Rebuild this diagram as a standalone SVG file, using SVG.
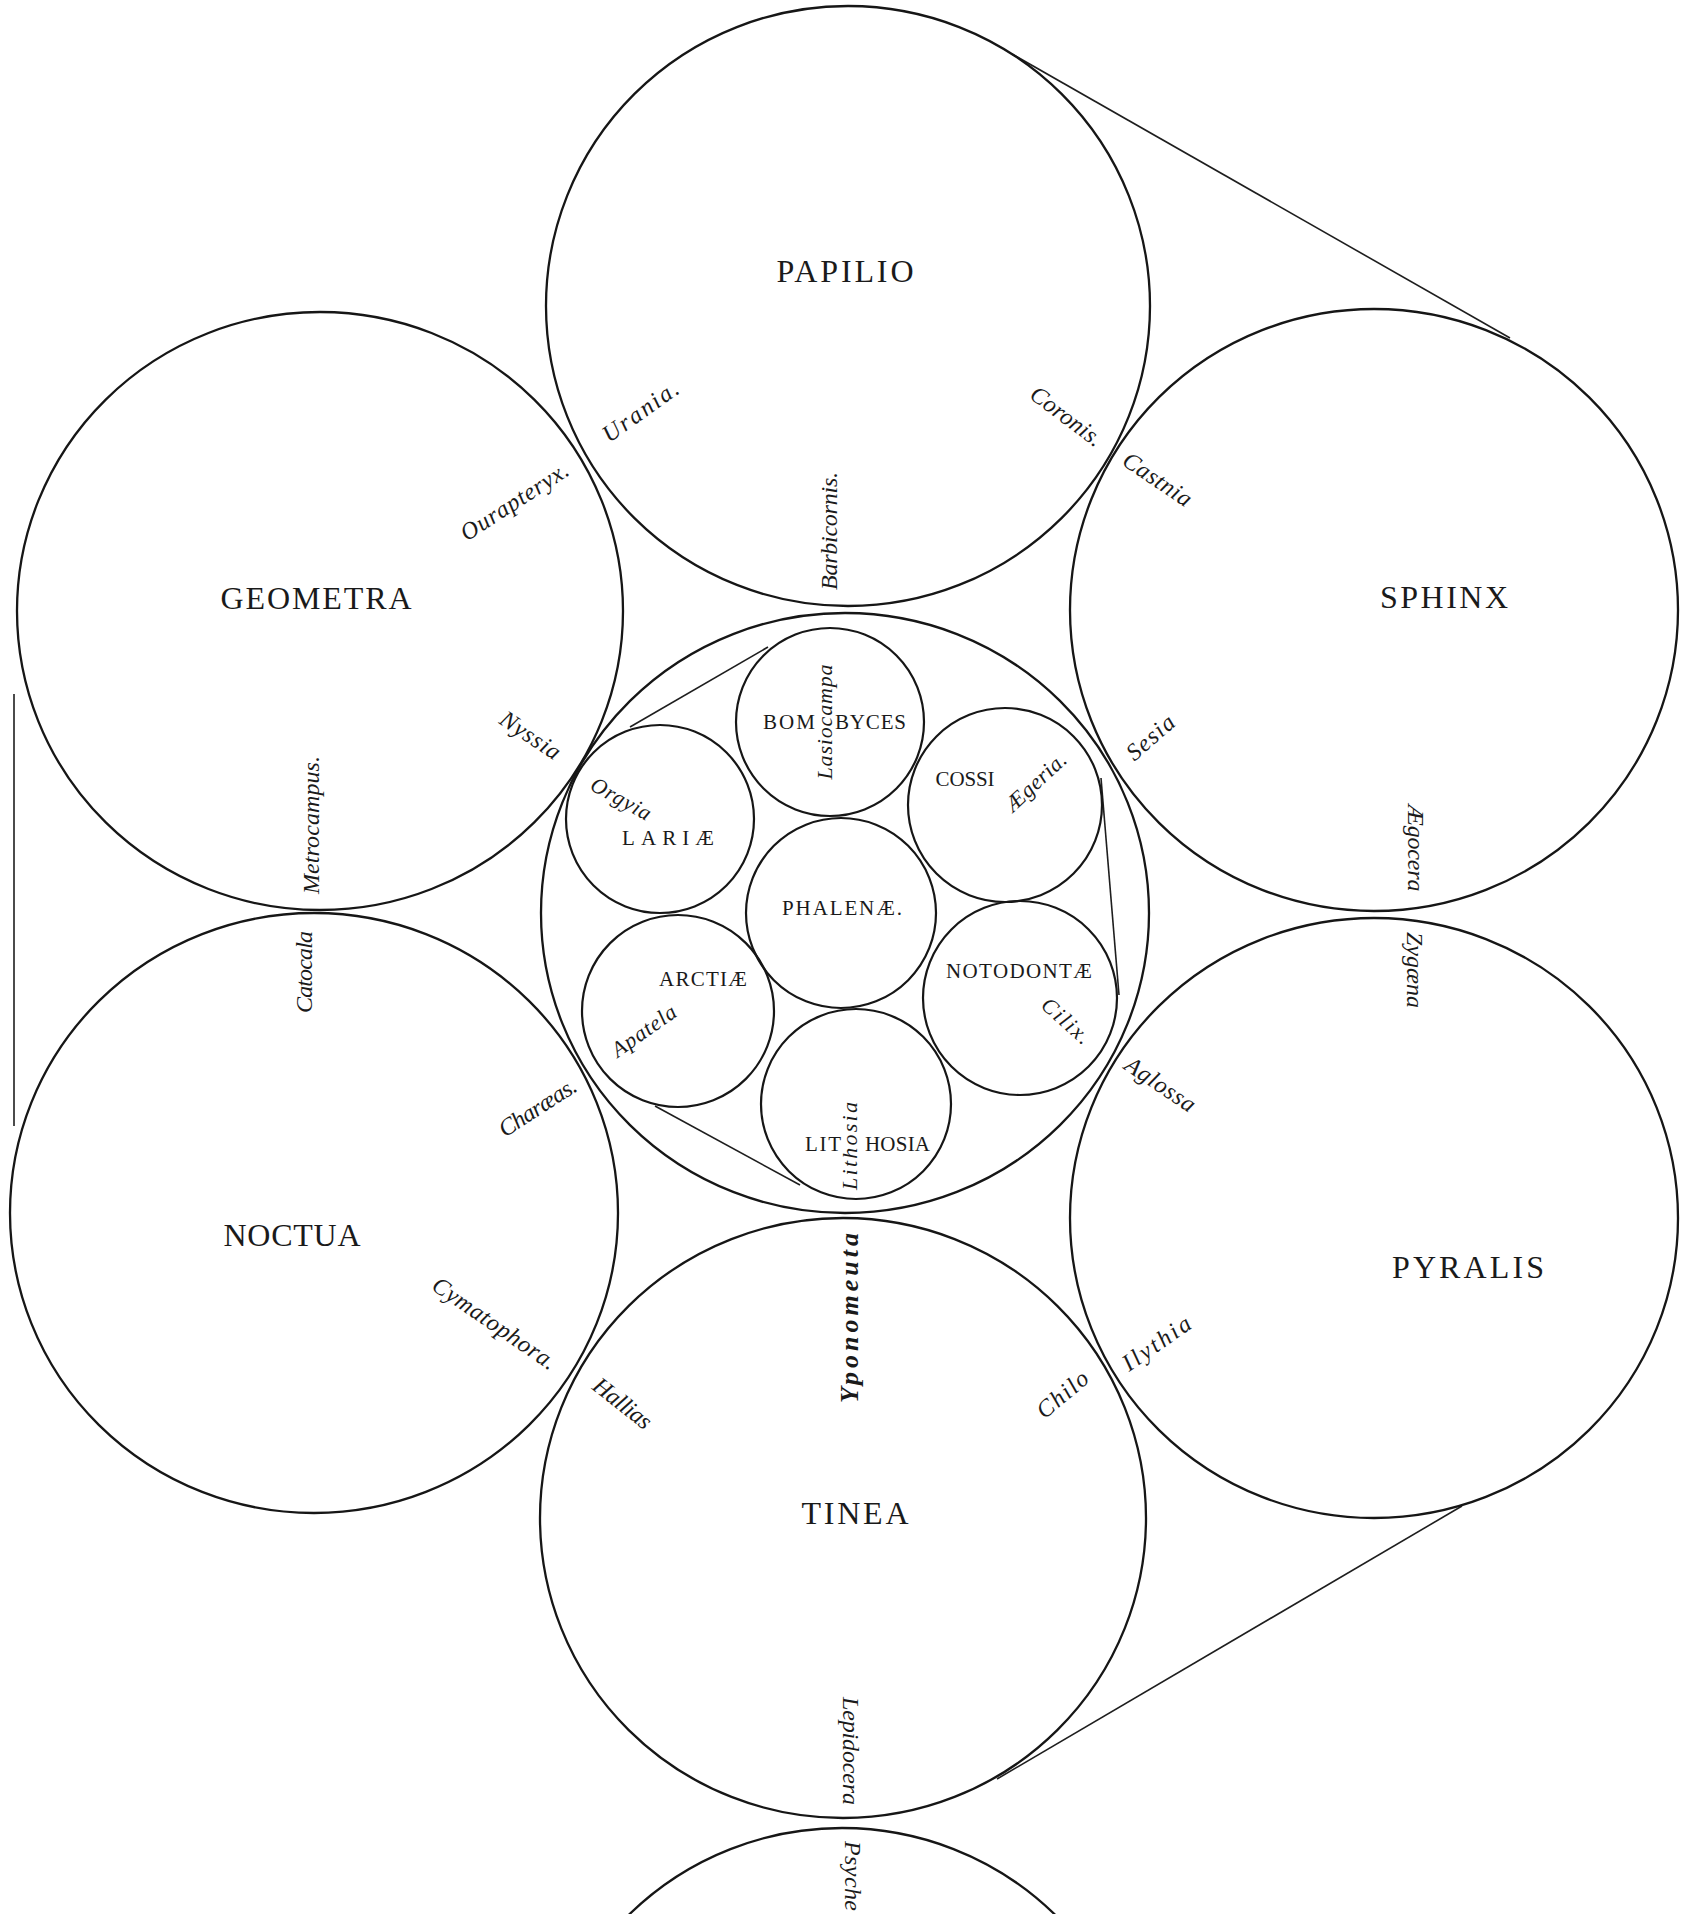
<svg xmlns="http://www.w3.org/2000/svg" width="1695" height="1914" viewBox="0 0 1695 1914">
<style>
.c{fill:none;stroke:#161616;stroke-width:2.3}
.s{fill:none;stroke:#161616;stroke-width:2.2}
.ln{fill:none;stroke:#1e1e1e;stroke-width:1.6}
.big{font-family:"Liberation Serif","DejaVu Serif",serif;font-size:32px;fill:#1a1a1a;text-anchor:middle}
.mid{font-family:"Liberation Serif","DejaVu Serif",serif;font-size:21px;fill:#1a1a1a}
.midc{font-family:"Liberation Serif","DejaVu Serif",serif;font-size:21px;fill:#1a1a1a;text-anchor:middle}
.it{font-family:"Liberation Serif","DejaVu Serif",serif;font-style:italic;font-size:24px;fill:#1a1a1a;text-anchor:middle}
.its{font-family:"Liberation Serif","DejaVu Serif",serif;font-style:italic;font-size:22px;fill:#1a1a1a;text-anchor:middle}
</style>
<rect width="1695" height="1914" fill="#ffffff"/>

<g id="connectors">
<line class="ln" x1="1012" y1="54" x2="1510" y2="338"/>
<line class="ln" x1="1462" y1="1506" x2="997" y2="1779"/>
<line class="ln" x1="14" y1="694" x2="14" y2="1126"/>
<line class="ln" x1="630" y1="727" x2="768" y2="647"/>
<line class="ln" x1="1101" y1="778" x2="1119" y2="995"/>
<line class="ln" x1="655" y1="1106" x2="800" y2="1185"/>
</g>

<g id="papilio">
<ellipse class="c" cx="848" cy="306" rx="302" ry="300"/>
<text class="big" x="845" y="282" textLength="137" lengthAdjust="spacing">PAPILIO</text>
<text class="it" transform="translate(830 531) rotate(-90)" x="0" y="7" textLength="118" lengthAdjust="spacing">Barbicornis.</text>
<text class="it" transform="translate(641 412) rotate(-35.5)" x="0" y="7" textLength="88" lengthAdjust="spacing">Urania.</text>
<text class="it" transform="translate(1066 417) rotate(37)" x="0" y="7" textLength="84" lengthAdjust="spacing">Coronis.</text>
</g>

<g id="geometra">
<ellipse class="c" cx="320" cy="611" rx="303" ry="299"/>
<text class="big" x="316" y="609" textLength="191" lengthAdjust="spacing">GEOMETRA</text>
<text class="it" transform="translate(515 502) rotate(-33)" x="0" y="7" textLength="124" lengthAdjust="spacing">Ourapteryx.</text>
<text class="it" transform="translate(530 736) rotate(34)" x="0" y="7" textLength="68" lengthAdjust="spacing">Nyssia</text>
<text class="it" transform="translate(312 825) rotate(-90)" x="0" y="7" textLength="138" lengthAdjust="spacing">Metrocampus.</text>
</g>

<g id="sphinx">
<ellipse class="c" cx="1374" cy="610" rx="304" ry="301"/>
<text class="big" x="1444" y="608" textLength="128" lengthAdjust="spacing">SPHINX</text>
<text class="it" transform="translate(1157 480) rotate(34)" x="0" y="7" textLength="78" lengthAdjust="spacing">Castnia</text>
<text class="it" transform="translate(1151 738) rotate(-41)" x="0" y="7" textLength="56" lengthAdjust="spacing">Sesia</text>
<text class="it" transform="translate(1415 848) rotate(90)" x="0" y="7" textLength="87" lengthAdjust="spacing">Ægocera</text>
</g>

<g id="noctua">
<ellipse class="c" cx="314" cy="1213" rx="304" ry="300"/>
<text class="big" x="292" y="1246" textLength="137" lengthAdjust="spacing">NOCTUA</text>
<text class="it" transform="translate(305 972) rotate(-90)" x="0" y="7" textLength="82" lengthAdjust="spacing">Catocala</text>
<text class="it" transform="translate(538 1108) rotate(-33)" x="0" y="7" textLength="88" lengthAdjust="spacing">Charæas.</text>
<text class="it" transform="translate(494 1324) rotate(34.5)" x="0" y="7" textLength="145" lengthAdjust="spacing">Cymatophora.</text>
</g>

<g id="pyralis">
<ellipse class="c" cx="1374" cy="1218" rx="304" ry="300"/>
<text class="big" x="1468" y="1278" textLength="152" lengthAdjust="spacing">PYRALIS</text>
<text class="it" transform="translate(1414 970) rotate(90)" x="0" y="7" textLength="76" lengthAdjust="spacing">Zygæna</text>
<text class="it" transform="translate(1160 1085) rotate(34)" x="0" y="7" textLength="80" lengthAdjust="spacing">Aglossa</text>
<text class="it" transform="translate(1157 1344) rotate(-35)" x="0" y="7" textLength="78" lengthAdjust="spacing">Ilythia</text>
</g>

<g id="tinea">
<ellipse class="c" cx="843" cy="1518" rx="303" ry="300"/>
<text class="big" x="855" y="1524" textLength="107" lengthAdjust="spacing">TINEA</text>
<text class="it" style="font-size:26px;font-weight:bold" transform="translate(850 1318) rotate(-90)" x="0" y="8" textLength="170" lengthAdjust="spacing">Yponomeuta</text>
<text class="it" transform="translate(622 1404) rotate(38)" x="0" y="7" textLength="68" lengthAdjust="spacing">Hallias</text>
<text class="it" transform="translate(1063 1395) rotate(-40)" x="0" y="7" textLength="60" lengthAdjust="spacing">Chilo</text>
<text class="it" transform="translate(850 1751) rotate(90)" x="0" y="7" textLength="108" lengthAdjust="spacing">Lepidocera</text>
</g>

<g id="psyche">
<ellipse class="c" cx="842" cy="2128" rx="303" ry="300"/>
<text class="it" transform="translate(852 1876) rotate(90)" x="0" y="7" textLength="70" lengthAdjust="spacing">Psyche</text>
</g>

<g id="phalenae-group">
<ellipse class="c" cx="845" cy="913" rx="304" ry="300"/>
</g>

<g id="bombyces">
<circle class="s" cx="830" cy="722" r="94"/>
<text class="mid" x="763" y="729" textLength="52" lengthAdjust="spacing">BOM</text>
<text class="mid" x="835" y="729" textLength="71" lengthAdjust="spacing">BYCES</text>
<text class="its" transform="translate(825 722) rotate(-90)" x="0" y="7" textLength="115" lengthAdjust="spacing">Lasiocampa</text>
</g>

<g id="cossi">
<circle class="s" cx="1005" cy="805" r="97"/>
<text class="midc" x="965" y="786" textLength="59" lengthAdjust="spacing">COSSI</text>
<text class="its" transform="translate(1036 782) rotate(-43)" x="0" y="7" textLength="75" lengthAdjust="spacing">Ægeria.</text>
</g>

<g id="lariae">
<circle class="s" cx="660" cy="819" r="94"/>
<text class="midc" x="668" y="845" textLength="92" lengthAdjust="spacing">LARIÆ</text>
<text class="its" transform="translate(621 799) rotate(29)" x="0" y="7" textLength="66" lengthAdjust="spacing">Orgyia</text>
</g>

<g id="phalenae">
<circle class="s" cx="841" cy="913" r="95"/>
<text class="midc" x="842" y="915" textLength="120" lengthAdjust="spacing">PHALENÆ.</text>
</g>

<g id="arctiae">
<circle class="s" cx="678" cy="1011" r="96"/>
<text class="midc" x="703" y="986" textLength="88" lengthAdjust="spacing">ARCTIÆ</text>
<text class="its" transform="translate(644 1031) rotate(-35)" x="0" y="7" textLength="74" lengthAdjust="spacing">Apatela</text>
</g>

<g id="notodontae">
<circle class="s" cx="1020" cy="998" r="97"/>
<text class="midc" x="1019" y="978" textLength="146" lengthAdjust="spacing">NOTODONTÆ</text>
<text class="its" transform="translate(1066 1021) rotate(42)" x="0" y="7" textLength="58" lengthAdjust="spacing">Cilix.</text>
</g>

<g id="lithosia">
<circle class="s" cx="856" cy="1104" r="95"/>
<text class="mid" x="805" y="1151" textLength="36" lengthAdjust="spacing">LIT</text>
<text class="mid" x="865" y="1151" textLength="65" lengthAdjust="spacing">HOSIA</text>
<text class="its" transform="translate(850 1146) rotate(-90)" x="0" y="7" textLength="88" lengthAdjust="spacing">Lithosia</text>
</g>
</svg>
